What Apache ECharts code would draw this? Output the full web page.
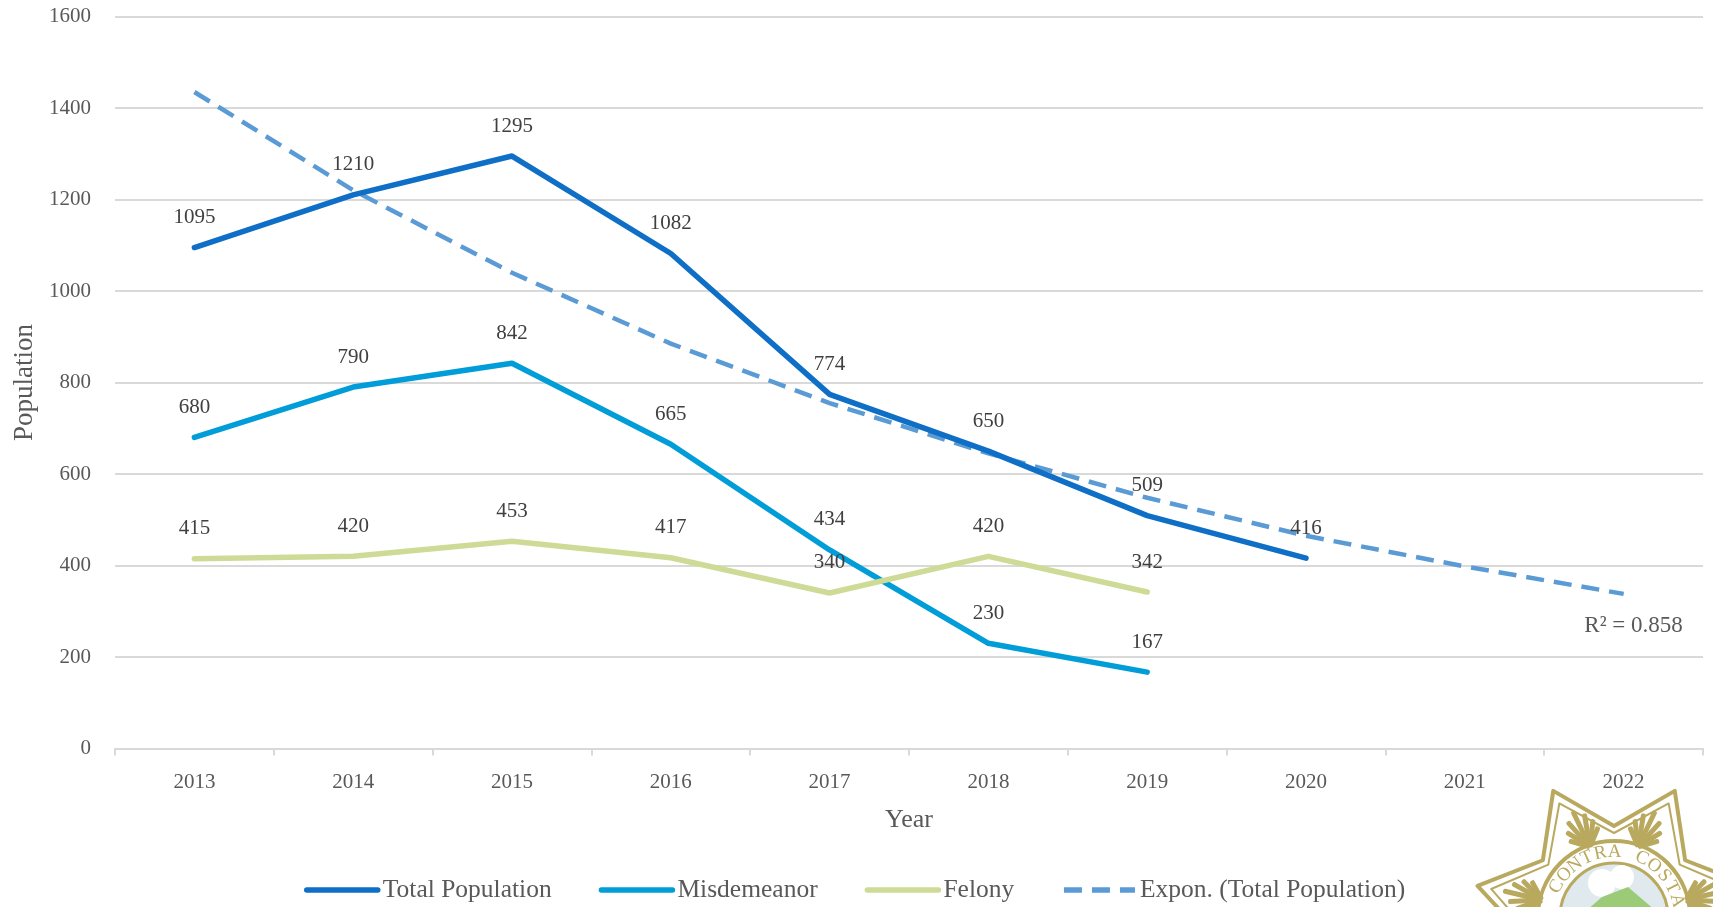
<!DOCTYPE html>
<html>
<head>
<meta charset="utf-8">
<title>Population by year</title>
<script src="https://cdn.jsdelivr.net/npm/echarts@6/dist/echarts.min.js"></script>
<style>
    html, body { margin: 0; padding: 0; background: #fff; }
    #main { width: 1713px; height: 907px; }
</style>
</head>
<body>
<div id="main"></div>
<script>
const years = ['2013', '2014', '2015', '2016', '2017', '2018', '2019', '2020', '2021', '2022'];
const totalPopulation = [1095, 1210, 1295, 1082, 774, 650, 509, 416];
const misdemeanor = [680, 790, 842, 665, 434, 230, 167];
const felony = [415, 420, 453, 417, 340, 420, 342];
const exponTrend = [1435, 1220, 1040, 885, 755, 645, 548, 465, 398, 338];
const trendNote = 'R² = 0.858';

const fontName = '"Liberation Serif", serif';
const chart = echarts.init(document.getElementById('main'));

function dataSeries(name, values, color) {
    return {
        name: name,
        type: 'line',
        data: values,
        symbol: 'circle',
        symbolSize: 1, // labels need a symbol to hang on
        showAllSymbol: true,
        z: 3,
        lineStyle: { color: color, width: 5.5, cap: 'round', join: 'round' },
        itemStyle: { color: color },
        label: {
            show: true,
            position: 'top',
            distance: 19,
            fontFamily: fontName,
            fontSize: 21,
            color: '#404040'
        }
    };
}

// seal in the bottom corner, just decoration
const sealX = 1614, sealY = 917;
function starPoints(outer, inner) {
    let pts = [];
    for (let i = 0; i < 14; i++) {
        let r = i % 2 ? outer : inner;
        let a = i * Math.PI / 7;
        pts.push([sealX + r * Math.sin(a), sealY - r * Math.cos(a)]);
    }
    return pts;
}
const gold = '#b9a95f';
let sealParts = [
    { type: 'polygon', shape: { points: starPoints(140, 91) }, style: { fill: '#fff', stroke: gold, lineWidth: 4, lineJoin: 'round' } },
    { type: 'polygon', shape: { points: starPoints(126, 84) }, style: { fill: '#fff', stroke: gold, lineWidth: 2, lineJoin: 'round' } },
    { type: 'circle', shape: { cx: sealX, cy: sealY, r: 76 }, style: { fill: '#fff', stroke: gold, lineWidth: 4 } },
    { type: 'circle', shape: { cx: sealX, cy: sealY, r: 54 }, style: { fill: '#dfe9ee', stroke: gold, lineWidth: 3 } },
    { type: 'circle', shape: { cx: sealX - 12, cy: sealY - 34, r: 14 }, style: { fill: '#fff' } },
    { type: 'circle', shape: { cx: sealX + 8, cy: sealY - 40, r: 12 }, style: { fill: '#fff' } },
    { type: 'polygon', shape: { points: [[sealX - 42, sealY + 6], [sealX - 12, sealY - 20], [sealX + 14, sealY - 30], [sealX + 42, sealY - 6], [sealX + 50, sealY + 10]] }, style: { fill: '#9ccb78' } }
];
// leaf tufts sitting in the star arms, fanned out towards the tips
[[-24, -70, 0.45], [24, -70, -0.45], [-72, -17, 1.34], [72, -17, -1.34]].forEach((leaf) => {
    for (let i = -3; i <= 3; i++) {
        sealParts.push({
            type: 'rect',
            shape: { x: -2.5, y: -(40 - Math.abs(i) * 6), width: 5, height: 40 - Math.abs(i) * 6, r: 2 },
            x: sealX + leaf[0],
            y: sealY + leaf[1],
            rotation: leaf[2] + i * 0.28,
            style: { fill: gold }
        });
    }
});
'CONTRA COSTA'.split('').forEach((letter, i) => {
    let a = (-62 + i * 12.5) * Math.PI / 180;
    sealParts.push({
        type: 'text',
        x: sealX + 65 * Math.sin(a),
        y: sealY - 65 * Math.cos(a),
        rotation: -a,
        style: { text: letter, fill: gold, fontFamily: fontName, fontSize: 19, align: 'center', verticalAlign: 'middle' }
    });
});

const option = {
    animation: false,
    backgroundColor: '#fff',
    textStyle: { fontFamily: fontName },
    grid: { left: 115, right: 10, top: 16.5, bottom: 158.5, containLabel: false, outerBoundsMode: 'none' },
    legend: {
        top: 872,
        left: 299,
        itemWidth: 71,
        itemHeight: 8,
        itemGap: 47,
        itemStyle: { opacity: 0 },
        lineStyle: { width: 5.5 },
        textStyle: { fontFamily: fontName, fontSize: 25.5, color: '#595959' },
        data: ['Total Population', 'Misdemeanor', 'Felony', 'Expon. (Total Population)']
    },
    xAxis: {
        type: 'category',
        data: years,
        boundaryGap: true,
        name: 'Year',
        nameLocation: 'middle',
        nameGap: 59,
        nameTextStyle: { fontFamily: fontName, fontSize: 26, color: '#595959' },
        axisLine: { lineStyle: { color: '#d9d9d9', width: 2 } },
        axisTick: { show: true, length: 7, lineStyle: { color: '#d9d9d9', width: 2 } },
        axisLabel: { fontFamily: fontName, fontSize: 21, color: '#595959', margin: 23 }
    },
    yAxis: {
        type: 'value',
        min: 0,
        max: 1600,
        interval: 200,
        name: 'Population',
        nameLocation: 'middle',
        nameGap: 77,
        nameTextStyle: { fontFamily: fontName, fontSize: 27, color: '#595959' },
        axisLine: { show: false },
        axisTick: { show: false },
        axisLabel: { fontFamily: fontName, fontSize: 21, color: '#595959', margin: 24, formatter: (v) => String(v) },
        splitLine: { lineStyle: { color: '#d9d9d9', width: 2 } }
    },
    series: [
        dataSeries('Total Population', totalPopulation, '#0f6fc6'),
        dataSeries('Misdemeanor', misdemeanor, '#009dd9'),
        dataSeries('Felony', felony, '#cedb96'),
        {
            name: 'Expon. (Total Population)',
            type: 'line',
            data: exponTrend.map((v, i) => i === exponTrend.length - 1 ? {
                value: v,
                symbol: 'circle',
                symbolSize: 1,
                label: {
                    show: true,
                    formatter: trendNote,
                    position: 'bottom',
                    offset: [10, 15],
                    fontFamily: fontName,
                    fontSize: 23,
                    color: '#595959'
                }
            } : v),
            symbol: 'circle',
            symbolSize: 0,
            showAllSymbol: true,
            z: 2,
            lineStyle: { color: '#5b9bd5', width: 4.5, type: [18, 10] },
            itemStyle: { color: '#5b9bd5' }
        }
    ],
    graphic: [{ type: 'group', silent: true, z: 10, children: sealParts }]
};

chart.setOption(option);
</script>
</body>
</html>
